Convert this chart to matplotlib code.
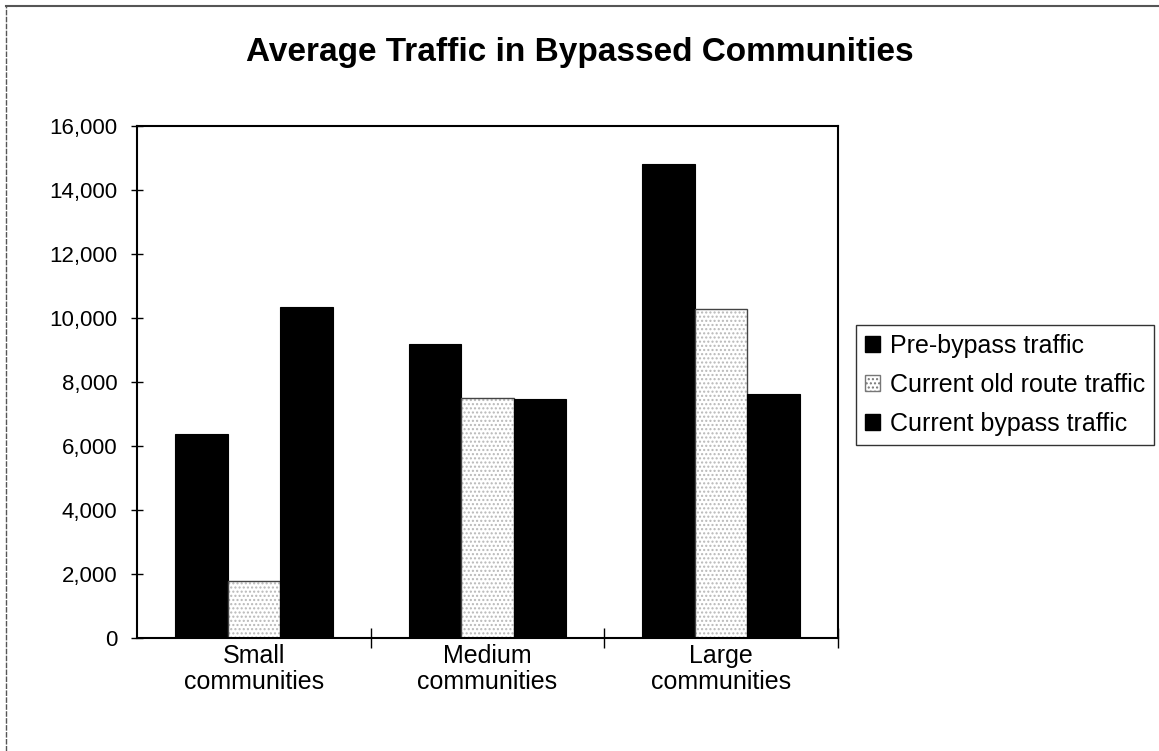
import matplotlib
matplotlib.use("Agg")
import matplotlib.pyplot as plt
from matplotlib.lines import Line2D
from matplotlib.patches import Patch
import numpy as np

categories = ["Small\ncommunities", "Medium\ncommunities", "Large\ncommunities"]
series_names = ["Pre-bypass traffic", "Current old route traffic", "Current bypass traffic"]
pre_bypass = [6380, 9190, 14810]
old_route = [1780, 7500, 10280]
bypass = [10340, 7470, 7620]
yticks = [0, 2000, 4000, 6000, 8000, 10000, 12000, 14000, 16000]

plt.rcParams['font.family'] = ['Liberation Sans', 'DejaVu Sans']
plt.rcParams['hatch.linewidth'] = 1.0

fig = plt.figure(figsize=(11.59, 7.51), dpi=100)
ax = fig.add_axes([137/1159, 1-638/751, (838-137)/1159, (638-126)/751])

x = np.arange(len(categories))
w = 0.225
ax.bar(x - w, pre_bypass, w, color='black', edgecolor='black', linewidth=0.8)
ax.bar(x, old_route, w, color='white', edgecolor='#b8b8b8', hatch='....', linewidth=0)
ax.bar(x, old_route, w, fill=False, edgecolor='#444444', linewidth=1.0)
ax.bar(x + w, bypass, w, color='black', edgecolor='black', linewidth=0.8)

ax.set_xlim(-0.5, 2.5)
ax.set_ylim(0, 16000)
ax.set_yticks(yticks)
ax.set_yticklabels([f"{v:,}" for v in yticks], fontsize=16)
ax.tick_params(axis='y', direction='inout', length=8, width=1, pad=10)
ax.set_xticks([0.5, 1.5, 2.5], minor=False)
ax.set_xticklabels([])
ax.tick_params(axis='x', which='major', direction='inout', length=14, width=1)
ax.set_xticks(x, minor=True)
ax.set_xticklabels(categories, minor=True, fontsize=18, linespacing=1.15)
ax.tick_params(axis='x', which='minor', length=0, pad=4)
for s in ax.spines.values():
    s.set_linewidth(1.5)
    s.set_color('black')

fig.text(580/1159, 1-52/751, "Average Traffic in Bypassed Communities",
         ha='center', va='center', fontsize=24, fontweight='bold')

handles = [Patch(facecolor='black', edgecolor='black'),
           Patch(facecolor='white', edgecolor='#777777', hatch='....'),
           Patch(facecolor='black', edgecolor='black')]
leg = fig.legend(handles, series_names, loc='upper left',
                 bbox_to_anchor=(856/1159, 1-325/751), fontsize=18,
                 frameon=True, fancybox=False, handlelength=0.6, handleheight=0.6,
                 handletextpad=0.4, labelspacing=0.6, borderpad=0.35, borderaxespad=0)
leg.get_frame().set_edgecolor('black')
leg.get_frame().set_linewidth(1.0)

fig.add_artist(Line2D([6/1159, 6/1159], [0, 1-6/751], color='#555555', lw=1, linestyle=(0, (4, 1))))
fig.add_artist(Line2D([6/1159, 1], [1-6/751, 1-6/751], color='#555555', lw=1.5))

fig.savefig("out.png", dpi=100)
